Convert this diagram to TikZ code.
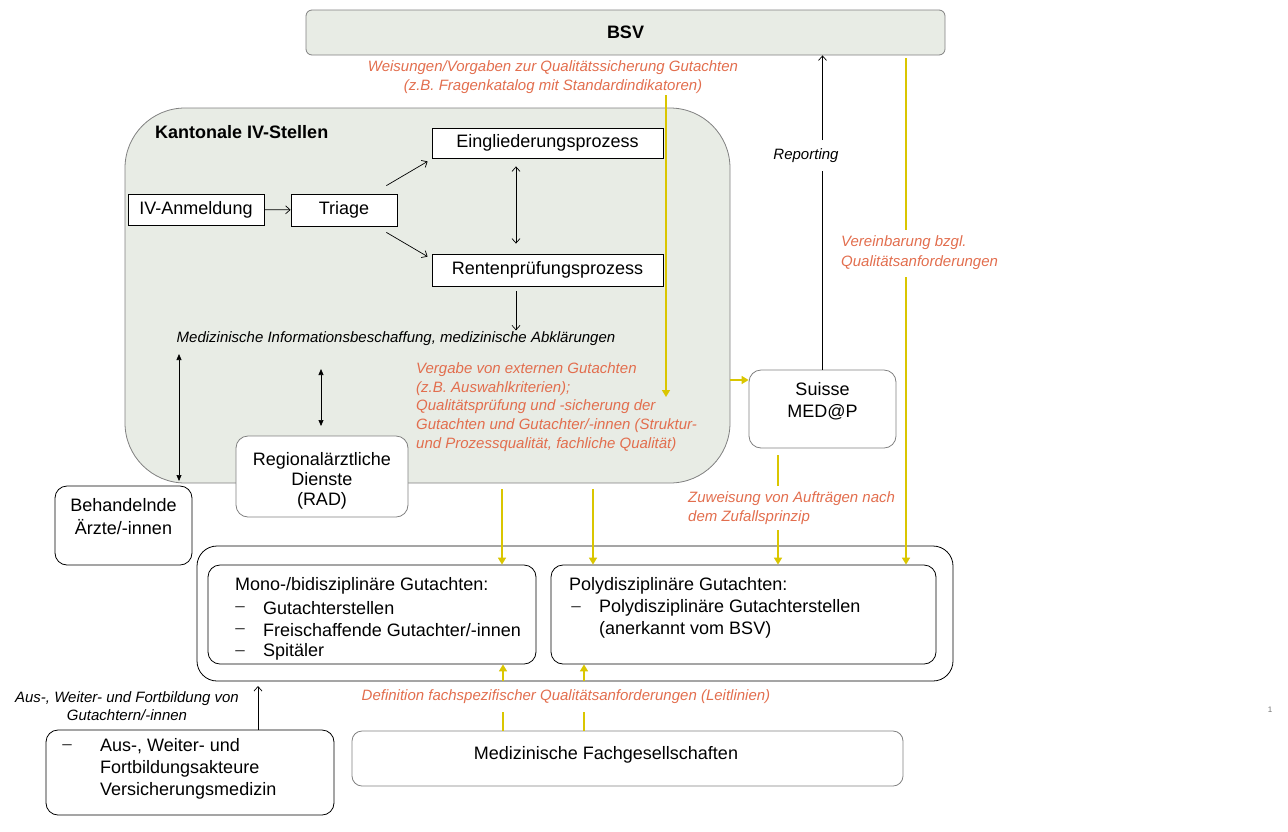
\documentclass[tikz,border=0pt]{standalone}
\usepackage{fontspec}
\setmainfont{Liberation Sans}
\usetikzlibrary{arrows.meta}
\definecolor{bg}{RGB}{232,236,229}
\definecolor{edge}{RGB}{128,128,128}
\definecolor{yel}{RGB}{218,198,0}
\definecolor{org}{RGB}{226,110,78}
\begin{document}
\begin{tikzpicture}[x=1pt,y=-1pt,
  big/.style={font=\fontsize{18}{21.5}\selectfont},
  lab/.style={font=\fontsize{15}{19}\selectfont\itshape, text=org, inner sep=0},
  blab/.style={font=\fontsize{15}{18.5}\selectfont\itshape, text=black, inner sep=0},
  txt/.style={big, inner sep=0, anchor=west},
  dashitem/.style={font=\fontsize{17}{18}\selectfont, text=black!80, inner sep=0},
  pbox/.style={draw=black, fill=white, line width=0.8pt, inner sep=0, big},
  rbox/.style={pbox, rounded corners=12pt},
  gbox/.style={draw=edge, fill=white, line width=0.8pt, inner sep=0, big, rounded corners=12pt},
  bgbox/.style={draw=edge, fill=bg, line width=0.8pt, inner sep=0},
  arr/.style={draw=black, line width=0.7pt, -{Straight Barb[length=4.5pt,width=8pt]}},
  darr/.style={draw=black, line width=0.7pt, {Triangle[length=6pt,width=5pt]}-{Triangle[length=6pt,width=5pt]}},
  barr/.style={draw=black, line width=0.7pt, {Straight Barb[length=4.5pt,width=8pt]}-{Straight Barb[length=4.5pt,width=8pt]}},
  yline/.style={draw=yel, line width=1.6pt},
  yarr/.style={yline, -{Triangle[length=7pt,width=8pt]}},
]
\useasboundingbox (0,0) rectangle (1288,831);

% BSV
\node[bgbox, rounded corners=6pt, minimum width=639, minimum height=45,
      font=\fontsize{18}{21}\selectfont\bfseries] (bsv) at (625.5,32.5) {BSV};
\node[lab, align=center] (wlab) at (553,77.5)
  {Weisungen/Vorgaben zur Qualitätssicherung Gutachten\\(z.B. Fragenkatalog mit Standardindikatoren)};

% Kantonale IV-Stellen
\node[bgbox, rounded corners=60pt, minimum width=605, minimum height=375] (kant) at (427.5,295.5) {};
\node[txt, font=\fontsize{18}{21}\selectfont\bfseries] (kantt) at (155,132) {Kantonale IV-Stellen};

\node[pbox, minimum width=231, minimum height=30] (eing) at (547.5,143) {Eingliederungsprozess};
\node[pbox, minimum width=136, minimum height=31] (ivan) at (196,209.5) {IV-Anmeldung};
\node[pbox, minimum width=106, minimum height=32] (triage) at (344,210) {Triage};
\node[pbox, minimum width=231, minimum height=32] (rente) at (547.5,270) {Rentenprüfungsprozess};

\draw[arr] (ivan) -- (triage);
\draw[arr] ([shift={(-11,-8)}]triage.north east) -- ([shift={(-4,3)}]eing.south west);
\draw[arr] ([shift={(-11,6)}]triage.south east) -- ([shift={(-4,3)}]rente.north west);
\draw[barr] ([shift={(-31.5,8)}]eing.south) -- ([shift={(-31.5,-10)}]rente.north);

\node[blab] (medinfo) at (396,339) {Medizinische Informationsbeschaffung, medizinische Abklärungen};
\draw[arr] ([shift={(-31.5,5)}]rente.south) -- ([shift={(-31.5,44)}]rente.south);

% RAD and Behandelnde
\node[gbox, minimum width=172, minimum height=81] (rad) at (322,476.5) {};
\node[big, align=center, inner sep=0, font=\fontsize{18}{20}\selectfont] (radt) at (322,481) {Regionalärztliche\\Dienste\\(RAD)};
\node[rbox, minimum width=137, minimum height=79] (beh) at (123.5,525.5) {};
\node[big, align=center, inner sep=0, font=\fontsize{18}{23}\selectfont] (beht) at (123.5,516.5) {Behandelnde\\Ärzte/-innen};

\coordinate (d1a) at (179,354);
\coordinate (d1b) at (179,481);
\draw[darr] (d1a) -- (d1b);
\coordinate (d2a) at (321,369);
\coordinate (d2b) at (321,426);
\draw[darr] (d2a) -- (d2b);

\node[lab, anchor=west, align=left, font=\fontsize{15}{18.8}\selectfont\itshape] (vergabe) at (416,407)
  {Vergabe von externen Gutachten\\(z.B. Auswahlkriterien);\\Qualitätsprüfung und -sicherung der\\Gutachten und Gutachter/-innen (Struktur-\\und Prozessqualität, fachliche Qualität)};

\coordinate (y1s) at (666,95);
\coordinate (y1e) at (666,397);
\draw[yarr] (y1s) -- (y1e);

% Suisse MED@P
\node[gbox, minimum width=147, minimum height=78] (suisse) at (822.5,409) {};
\node[big, align=center, inner sep=0, font=\fontsize{18}{22}\selectfont] (suisset) at (822.5,401) {Suisse\\MED@P};
\draw[yarr] ([shift={(0,84.5)}]kant.east) -- ([shift={(0,-29)}]suisse.west);

\coordinate (rep1) at (822.5,171);
\coordinate (rep2) at (822.5,140);
\draw[black, line width=0.7pt] (suisse.north) -- (rep1);
\draw[arr] (rep2) -- (bsv.south -| suisse.north);
\node[blab] (report) at (806,156) {Reporting};

\coordinate (v1) at (906,58);
\coordinate (v2) at (906,230);
\coordinate (v3) at (906,277);
\node[lab, anchor=west, align=left, font=\fontsize{15}{20}\selectfont\itshape] (verein) at (841,253)
  {Vereinbarung bzgl.\\Qualitätsanforderungen};

% Outer Gutachten box
\node[rbox, rounded corners=20pt, minimum width=756, minimum height=135] (outer) at (575,613.5) {};
\node[rbox, minimum width=328, minimum height=99] (mono) at (372,614.5) {};
\node[rbox, minimum width=385, minimum height=99] (poly) at (743.5,614.5) {};

\draw[yline] (v1) -- (v2);
\draw[yarr] (v3) -- (v3 |- poly.north);

\node[txt] (monot) at (235,586) {Mono-/bidisziplinäre Gutachten:};
\node[dashitem] (md1) at (240,609) {–};
\node[txt] (m1) at (263,608) {Gutachterstellen};
\node[dashitem] (md2) at (240,631) {–};
\node[txt] (m2) at (263,630) {Freischaffende Gutachter/-innen};
\node[dashitem] (md3) at (240,653) {–};
\node[txt] (m3) at (263,652) {Spitäler};

\node[txt] (polyt) at (569,586) {Polydisziplinäre Gutachten:};
\node[dashitem] (pd1) at (576,609) {–};
\node[txt] (p1) at (599,608) {Polydisziplinäre Gutachterstellen};
\node[txt] (p2) at (599,630) {(anerkannt vom BSV)};

% Suisse -> Gutachten
\coordinate (z1) at (778,455);
\coordinate (z2) at (778,486);
\coordinate (z3) at (778,530);
\draw[yline] (z1) -- (z2);
\node[lab, anchor=west, align=left] (zuw) at (688,508.5)
  {Zuweisung von Aufträgen nach\\dem Zufallsprinzip};
\draw[yarr] (z3) -- (z3 |- poly.north);

% Kantonale -> Gutachten
\coordinate (k1) at (502,489);
\coordinate (k2) at (593,489);
\draw[yarr] (k1) -- (k1 |- mono.north);
\draw[yarr] (k2) -- (k2 |- poly.north);

% Fachgesellschaften
\node[gbox, rounded corners=10pt, minimum width=551, minimum height=55] (fach) at (627.5,758.5) {};
\node[big, inner sep=0] (facht) at (606,755) {Medizinische Fachgesellschaften};
\node[lab] (deflab) at (566,697) {Definition fachspezifischer Qualitätsanforderungen (Leitlinien)};
\coordinate (f1) at (503,712);
\coordinate (f2) at (584,712);
\draw[yline] (f1 |- fach.north) -- (f1);
\draw[yline] (f2 |- fach.north) -- (f2);
\draw[yarr] (f1 |- outer.south) -- (f1 |- mono.south);
\draw[yarr] (f2 |- outer.south) -- (f2 |- poly.south);

% Aus-, Weiter- und Fortbildung
\node[rbox, minimum width=288, minimum height=85] (aus) at (190,772.5) {};
\node[dashitem] (ad) at (67,747) {–};
\node[txt] (a1) at (100,746) {Aus-, Weiter- und};
\node[txt] (a2) at (100,769) {Fortbildungsakteure};
\node[txt] (a3) at (100,791) {Versicherungsmedizin};
\coordinate (atip) at (258,686);
\draw[arr] (aus.north -| atip) -- (atip);
\node[blab, align=center] (auslab) at (127,706) {Aus-, Weiter- und Fortbildung von\\Gutachtern/-innen};

% page number
\node[font=\fontsize{8}{9}\selectfont, text=black!55, inner sep=0] (pg) at (1270,710) {1};
\end{tikzpicture}
\end{document}
